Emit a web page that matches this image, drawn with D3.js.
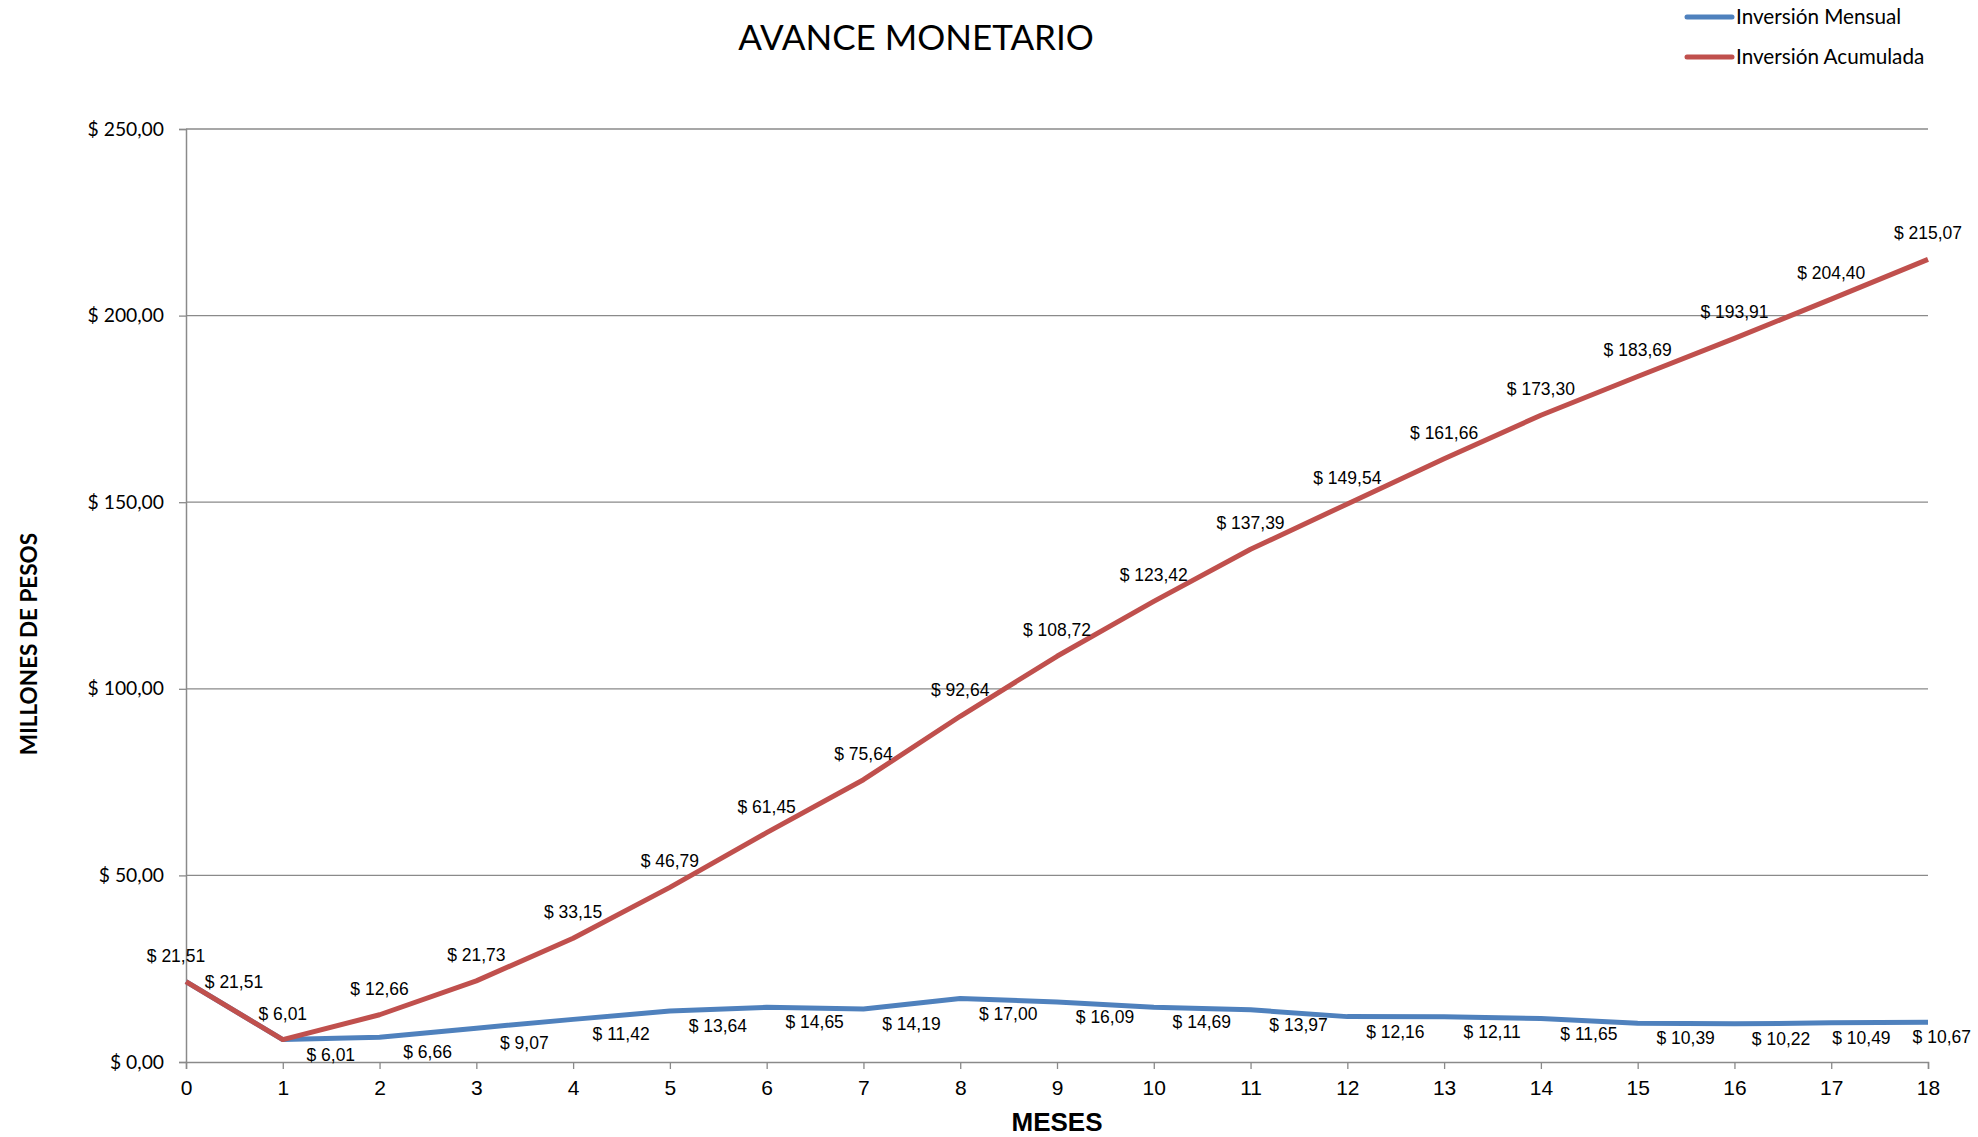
<!DOCTYPE html>
<html>
<head>
<meta charset="utf-8">
<script src="https://cdn.jsdelivr.net/npm/d3@7"></script>
<style>
  body { margin: 0; background: #fff; }
  svg { display: block; }
</style>
</head>
<body>
<div id="graph"></div>
<script>
var width = 1978;
var height = 1137;
var margin = { top: 129, bottom: 75, left: 186, right: 50 };

var meses = [0, 1, 2, 3, 4, 5, 6, 7, 8, 9, 10, 11, 12, 13, 14, 15, 16, 17, 18];
var inversionMensual = [21.51, 6.01, 6.66, 9.07, 11.42, 13.64, 14.65, 14.19, 17.00, 16.09,
  14.69, 13.97, 12.16, 12.11, 11.65, 10.39, 10.22, 10.49, 10.67];
var inversionAcumulada = [21.51, 6.01, 12.66, 21.73, 33.15, 46.79, 61.45, 75.64, 92.64, 108.72,
  123.42, 137.39, 149.54, 161.66, 173.30, 183.69, 193.91, 204.40, 215.07];
var yTicks = [0, 50, 100, 150, 200, 250];
var seriesNames = ["Inversión Mensual", "Inversión Acumulada"];

var colors = { mensual: "#4F81BD", acumulada: "#C0504D" };
var gridColor = "#8a8a8a";

// formato "$ 12,34"
function pesos(v) {
  return "$ " + v.toFixed(2).replace(".", ",");
}

var svg = d3.select("#graph").append("svg")
  .attr("width", width)
  .attr("height", height);

var xScale = d3.scaleLinear().domain([0, 18]).range([margin.left, width - margin.right]);
var yScale = d3.scaleLinear().domain([0, 250]).range([height - margin.bottom, margin.top]);

// grid lines
svg.append("g")
  .selectAll("line")
  .data(yTicks.slice(1))
  .enter().append("line")
  .attr("x1", xScale(0))
  .attr("x2", xScale(18))
  .attr("y1", function (d) { return yScale(d); })
  .attr("y2", function (d) { return yScale(d); })
  .attr("stroke", gridColor)
  .attr("stroke-width", 1.3);

// y axis
var yAxis = svg.append("g")
  .attr("transform", "translate(" + xScale(0) + ",0)")
  .call(d3.axisLeft(yScale).tickValues(yTicks).tickSize(7).tickPadding(15).tickFormat(pesos));
yAxis.select(".domain").attr("stroke", gridColor).attr("stroke-width", 1.5);
yAxis.selectAll(".tick line").attr("stroke", gridColor).attr("stroke-width", 1.3);
yAxis.selectAll(".tick text")
  .attr("font-family", "Lato, 'Open Sans', sans-serif")
  .attr("font-size", 19.3)
  .attr("fill", "#000");

// x axis
var xAxis = svg.append("g")
  .attr("transform", "translate(0," + yScale(0) + ")")
  .call(d3.axisBottom(xScale).tickValues(meses).tickSize(7).tickPadding(11).tickFormat(d3.format("d")));
xAxis.select(".domain").attr("stroke", gridColor).attr("stroke-width", 1.5);
xAxis.selectAll(".tick line").attr("stroke", gridColor).attr("stroke-width", 1.3);
xAxis.selectAll(".tick text")
  .attr("font-family", "'Liberation Sans', Arial, sans-serif")
  .attr("font-size", 21)
  .attr("fill", "#000");

// lines
var line = d3.line()
  .x(function (d, i) { return xScale(meses[i]); })
  .y(function (d) { return yScale(d); });

svg.append("path")
  .datum(inversionMensual)
  .attr("fill", "none")
  .attr("stroke", colors.mensual)
  .attr("stroke-width", 5)
  .attr("stroke-linejoin", "round")
  .attr("d", line);

svg.append("path")
  .datum(inversionAcumulada)
  .attr("fill", "none")
  .attr("stroke", colors.acumulada)
  .attr("stroke-width", 5)
  .attr("stroke-linejoin", "round")
  .attr("d", line);

// data labels
var labelFont = "'Liberation Sans', Arial, sans-serif";
var labelSize = 17.5;

svg.append("g")
  .selectAll("text")
  .data(inversionAcumulada)
  .enter().append("text")
  .attr("x", function (d, i) { return i === 0 ? xScale(meses[i]) - 10 : xScale(meses[i]); })
  .attr("y", function (d) { return yScale(d) - 20; })
  .attr("text-anchor", "middle")
  .attr("font-family", labelFont)
  .attr("font-size", labelSize)
  .attr("fill", "#000")
  .text(pesos);

var blueLabels = svg.append("g")
  .selectAll("text")
  .data(inversionMensual)
  .enter().append("text")
  .attr("x", function (d, i) { return xScale(meses[i]) + 48; })
  .attr("y", function (d, i) { return i === 0 ? yScale(d) + 6 : yScale(d) + 21; })
  .attr("text-anchor", "middle")
  .attr("font-family", labelFont)
  .attr("font-size", labelSize)
  .attr("fill", "#000")
  .text(pesos);

// keep the blue labels inside the page and apart from each other (right to left)
var nodes = blueLabels.nodes();
var limit = width - 7;
for (var k = nodes.length - 1; k >= 0; k--) {
  var w = nodes[k].getComputedTextLength();
  var cx = +nodes[k].getAttribute("x");
  if (cx + w / 2 > limit) {
    cx = limit - w / 2;
    nodes[k].setAttribute("x", cx);
  }
  limit = cx - w / 2 - 22;
}

// titles
svg.append("text")
  .attr("x", 916)
  .attr("y", 50)
  .attr("text-anchor", "middle")
  .attr("font-family", "Lato, 'Open Sans', sans-serif")
  .attr("font-size", 35)
  .attr("fill", "#000")
  .text("AVANCE MONETARIO");

svg.append("text")
  .attr("transform", "translate(37,644) rotate(-90)")
  .attr("text-anchor", "middle")
  .attr("font-family", "Lato, 'Open Sans', sans-serif")
  .attr("font-weight", "bold")
  .attr("font-size", 22.5)
  .attr("fill", "#000")
  .text("MILLONES DE PESOS");

svg.append("text")
  .attr("x", xScale(9))
  .attr("y", 1131)
  .attr("text-anchor", "middle")
  .attr("font-family", "'Liberation Sans', Arial, sans-serif")
  .attr("font-weight", "bold")
  .attr("font-size", 26)
  .attr("fill", "#000")
  .text("MESES");

// legend
var legend = svg.append("g").attr("transform", "translate(1687,0)");
var legendColors = [colors.mensual, colors.acumulada];
seriesNames.forEach(function (name, i) {
  var y = 17 + i * 40;
  legend.append("line")
    .attr("x1", 0).attr("x2", 45)
    .attr("y1", y).attr("y2", y)
    .attr("stroke", legendColors[i])
    .attr("stroke-width", 5)
    .attr("stroke-linecap", "round");
  legend.append("text")
    .attr("x", 49)
    .attr("y", y + 7)
    .attr("font-family", "Lato, 'Open Sans', sans-serif")
    .attr("font-size", 20.7)
    .attr("fill", "#000")
    .text(name);
});
</script>
</body>
</html>
